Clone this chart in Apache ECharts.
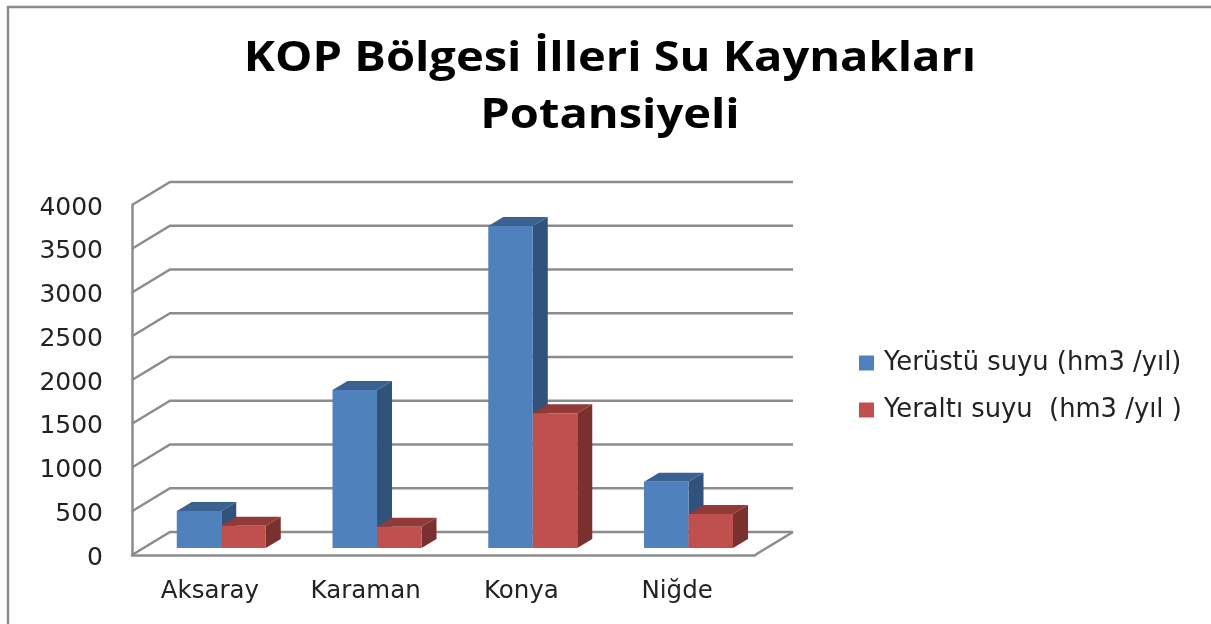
<!DOCTYPE html>
<html>
<head>
<meta charset="utf-8">
<style>html,body{margin:0;padding:0;background:#fff;overflow:hidden}#c{width:1211px;height:624px}</style>
<script src="https://cdn.jsdelivr.net/npm/echarts@6/dist/echarts.min.js"></script>
</head>
<body>
<div id="c"></div>
<script>
const titleText = 'KOP Bölgesi İlleri Su Kaynakları\nPotansiyeli';
const categories = ['Aksaray', 'Karaman', 'Konya', 'Niğde'];
const seriesNames = ['Yerüstü suyu (hm3 /yıl)', 'Yeraltı suyu  (hm3 /yıl )'];
const surfaceWater = [423, 1806, 3680, 757];
const groundWater = [255, 243, 1540, 389];
const axisTicks = [0, 500, 1000, 1500, 2000, 2500, 3000, 3500, 4000];

const GRID = '#8c8c8c';
const DX = 38, DY = -23;          // floor depth of the 3D box
const BAR_DX = 15, BAR_DY = -9;   // depth of one bar
const NEAR = 0.3;                 // where bars start within the floor depth
const BAR_SHARE = 0.2857;         // bar width as share of category band

function wallItem(params, api) {
  const cs = params.coordSys;
  const y = api.coord([0, api.value(0)])[1];
  const isFloor = api.value(0) === 0;
  const left = cs.x, right = cs.x + cs.width;
  const style = { stroke: GRID, lineWidth: 2.5, fill: null };
  const children = [
    { type: 'polyline', shape: { points: [[left, y], [left + DX, y + DY], [right + DX, y + DY]] }, style }
  ];
  if (isFloor) {
    children.push({ type: 'line', shape: { x1: right, y1: y, x2: right + DX, y2: y + DY }, style });
  }
  return { type: 'group', children };
}

function barItem(seriesIdx, front, top, side) {
  return function (params, api) {
    const cat = api.value(0), val = api.value(1);
    const base = api.coord([cat, 0]);
    const head = api.coord([cat, val]);
    const w = api.size([1, 0])[0] * BAR_SHARE;
    const ox = DX * NEAR, oy = DY * NEAR;
    const x0 = base[0] + ox - w + seriesIdx * w;
    const x1 = x0 + w;
    const yb = base[1] + oy, yt = head[1] + oy;
    const poly = (pts, fill) => ({ type: 'polygon', shape: { points: pts }, style: { fill, stroke: null } });
    return {
      type: 'group',
      children: [
        poly([[x1, yb], [x1 + BAR_DX, yb + BAR_DY], [x1 + BAR_DX, yt + BAR_DY], [x1, yt]], side),
        poly([[x0, yt], [x0 + BAR_DX, yt + BAR_DY], [x1 + BAR_DX, yt + BAR_DY], [x1, yt]], top),
        poly([[x0, yb], [x1, yb], [x1, yt], [x0, yt]], front)
      ]
    };
  };
}

const chart = echarts.init(document.getElementById('c'), null, { renderer: 'canvas' });
chart.setOption({
  animation: false,
  backgroundColor: '#fff',
  textStyle: { fontFamily: '"DejaVu Sans"' },
  legend: {
    left: 854, top: 345, orient: 'vertical',
    itemWidth: 15, itemHeight: 15, itemGap: 21,
    icon: 'rect',
    data: seriesNames.map((name) => ({ name })),
    textStyle: { fontFamily: '"DejaVu Sans"', fontSize: 25.8, color: '#222', padding: [2, 0, 0, 5] }
  },
  grid: { left: 132, right: 456, top: 205, bottom: 69 },
  xAxis: {
    type: 'category', data: categories,
    axisLine: { show: true, lineStyle: { color: GRID, width: 2.5 } },
    axisTick: { show: false },
    axisLabel: { fontSize: 24.5, color: '#222', margin: 24 }
  },
  yAxis: {
    type: 'value', min: 0, max: 4000, interval: 500,
    axisLine: { show: true, lineStyle: { color: GRID, width: 2.5 } },
    axisTick: { show: false },
    splitLine: { show: false },
    axisLabel: { fontSize: 25, color: '#222', margin: 29, verticalAlign: 'top', lineHeight: 6, formatter: (v) => String(v) }
  },
  series: [
    {
      type: 'custom', name: 'walls', silent: true, clip: false, z: 1,
      coordinateSystem: 'cartesian2d',
      data: axisTicks.map((t) => [t]),
      encode: { y: 0 },
      renderItem: wallItem
    },
    {
      type: 'custom', name: seriesNames[0], silent: true, clip: false, z: 2,
      itemStyle: { color: '#4F81BD' },
      data: surfaceWater.map((v, i) => [i, v]),
      encode: { x: 0, y: 1 },
      renderItem: barItem(0, '#4F81BD', '#3A6291', '#31527B')
    },
    {
      type: 'custom', name: seriesNames[1], silent: true, clip: false, z: 3,
      itemStyle: { color: '#C0504D' },
      data: groundWater.map((v, i) => [i, v]),
      encode: { x: 0, y: 1 },
      renderItem: barItem(1, '#C0504D', '#913A38', '#7A302E')
    }
  ],
  graphic: [
    { type: 'rect', silent: true, z: 0,
      shape: { x: 8, y: 7, width: 1400, height: 800 },
      style: { fill: null, stroke: GRID, lineWidth: 2.5 } },
    { type: 'text', silent: true, z: 5, x: 610, y: 31, scaleX: 1.12,
      style: { text: titleText, textAlign: 'center', textVerticalAlign: 'top',
               font: 'bold 42px "Open Sans"', lineHeight: 57, fill: '#000' } }
  ]
});
</script>
</body>
</html>
